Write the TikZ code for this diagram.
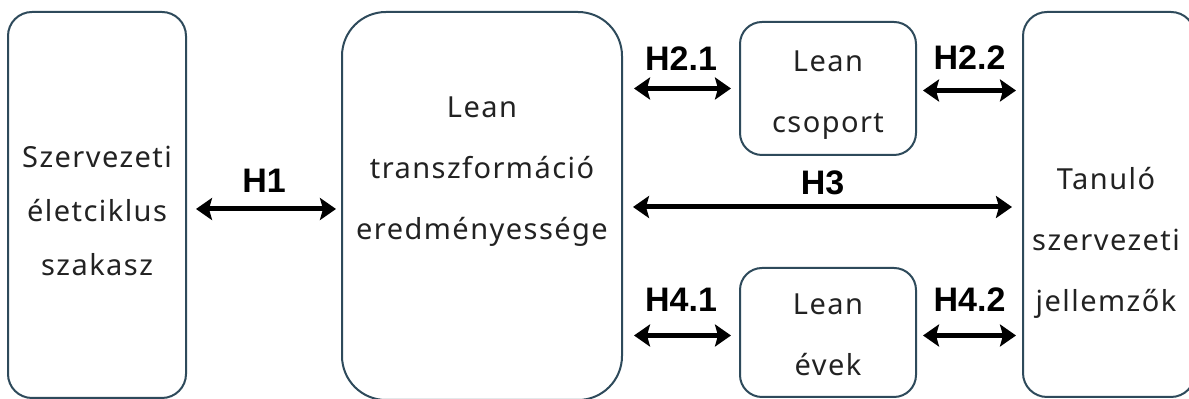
\documentclass[tikz,border=0pt]{standalone}
\usepackage{fontspec}
\setmainfont{Noto Sans}
\newfontfamily\boxfont[LetterSpace=5]{Noto Sans}
\newfontfamily\hypfont{Liberation Sans}
\usetikzlibrary{arrows.meta,positioning}
\definecolor{boxline}{HTML}{2E4A5B}
\definecolor{darktext}{HTML}{222222}

\begin{document}
\begin{tikzpicture}[x=0.5pt,y=-0.5pt,
  box/.style={draw=boxline, line width=1pt, inner sep=0pt},
  boxtext/.style={align=center, text=darktext, inner sep=0pt, font=\boxfont\fontsize{14.5}{30.5}\selectfont},
  link/.style={line width=2.5pt, {Stealth[length=8pt,width=11pt,inset=1.5pt]}-{Stealth[length=8pt,width=11pt,inset=1.5pt]}},
  hyp/.style={font=\hypfont\bfseries\fontsize{17}{20}\selectfont, inner sep=0pt}]
\useasboundingbox (0,0) rectangle (1189,399);
\fill[white] (0,0) rectangle (1189,399);

\node[box, minimum width=89pt, minimum height=193pt, rounded corners=12pt,
  label={[boxtext, yshift=-3pt, font=\boxfont\fontsize{14.5}{27}\selectfont]center:{Szervezeti\\életciklus\\szakasz}}] (lifecycle) at (97,205) {};
\node[box, minimum width=140pt, minimum height=194pt, rounded corners=22pt,
  label={[boxtext, yshift=17pt]center:{Lean\\transzformáció\\eredményessége}}] (transf) at (482,206) {};
\node[box, minimum width=88pt, minimum height=66.5pt, rounded corners=11pt,
  label={[boxtext, yshift=-3.5pt]center:{Lean\\csoport}}] (group) at (828,88.5) {};
\node[box, minimum width=88pt, minimum height=64.5pt, rounded corners=11pt,
  label={[boxtext, yshift=-1pt]center:{Lean\\évek}}] (years) at (828,332.5) {};
\node[box, minimum width=86pt, minimum height=192.5pt, rounded corners=12pt,
  label={[boxtext, yshift=-19pt, xshift=-1.5pt]center:{Tanuló\\szervezeti\\jellemzők}}] (learning) at (1109,204.5) {};

\draw[link, shorten <=4.5pt, shorten >=2.5pt] ([yshift=-2pt]lifecycle.east) -- ([yshift=-2pt]lifecycle.east -| transf.west)
  node[hyp, midway, above=7pt] {H1};
\draw[link, shorten <=5pt, shorten >=5pt] ([yshift=-0.5pt]transf.east) -- ([yshift=-0.5pt]transf.east -| learning.west)
  node[hyp, midway, above=5pt] {H3};
\draw[link, shorten <=5.5pt, shorten >=4pt] (transf.east |- group.west) -- (group.west)
  node[hyp, midway, above=7.5pt] {H2.1};
\draw[link, shorten <=3pt, shorten >=3pt] ([yshift=-1pt]group.east) -- ([yshift=-1pt]group.east -| learning.west)
  node[hyp, midway, above=9pt] {H2.2};
\draw[link, shorten <=5.5pt, shorten >=4pt] ([yshift=-1.5pt]transf.east |- years.west) -- ([yshift=-1.5pt]years.west)
  node[hyp, midway, above=10.5pt] {H4.1};
\draw[link, shorten <=3pt, shorten >=3pt] ([yshift=-1.5pt]years.east) -- ([yshift=-1.5pt]years.east -| learning.west)
  node[hyp, midway, above=10.5pt] {H4.2};
\end{tikzpicture}
\end{document}
